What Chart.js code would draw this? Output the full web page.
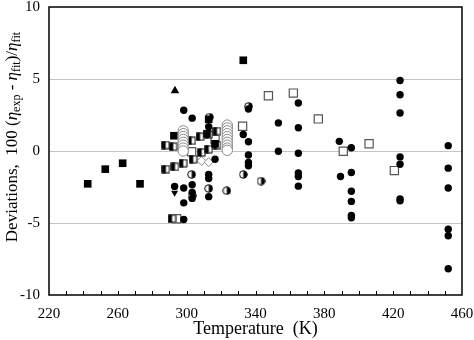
<!DOCTYPE html>
<html>
<head>
<meta charset="utf-8">
<script src="https://cdn.jsdelivr.net/npm/chart.js@4"></script>
<style>
  html, body { margin: 0; padding: 0; background: #fff; }
  #wrap { width: 474px; height: 340px; }
</style>
</head>
<body>
<div id="wrap"><canvas id="chart" width="474" height="340"></canvas></div>
<script>
// axis ticks
var xTicks = [220, 260, 300, 340, 380, 420, 460];
var yTicks = [-10, -5, 0, 5, 10];

// filled squares
var filledSquares = [
  [242.5, -2.28], [252.7, -1.26], [262.8, -0.85], [272.9, -2.28],
  [332.9, 6.3], [292.6, 1.06], [312.8, 2.2], [311.8, 1.2], [316.5, 0.5]
];

// half-filled squares
var halfSquares = [
  [287.8, 0.41], [292.2, 0.3], [287.9, -1.26], [293.2, -1.1], [298, -0.85],
  [303.8, -0.57], [308.7, -0.1], [312.8, 0.13], [317.6, 0.41],
  [302.9, 0.71], [307.8, 0.99], [312.8, 1.15], [317.6, 1.38], [291.5, -4.7]
];

// open squares
var openSquares = [
  [347.5, 3.84], [362, 4.02], [376.5, 2.23], [391, -0.02], [406, 0.5],
  [420.7, -1.36], [332.5, 1.72], [302.9, -0.05], [316.5, 0.8], [294.2, -4.7]
];

// open circles
var openCircles = [
  [298, 1.4], [298, 1.2], [298, 1.0], [298, 0.8], [298, 0.6], [298, 0.4], [298, 0.2], [298, 0.0],
  [323.6, 1.8], [323.6, 1.6], [323.6, 1.4], [323.6, 1.2], [323.6, 1.0], [323.6, 0.8],
  [323.6, 0.6], [323.6, 0.4], [323.6, 0.2], [323.6, 0.05]
];

// half-filled circles
var halfCircles = [
  [302.9, -1.63], [323.3, -2.76], [332.9, -1.63], [343.2, -2.09],
  [312.8, -2.6], [303.2, -3.1], [313.2, 2.35], [336, 3.1]
];

// filled circles
var filledCircles = [
  [298.3, 2.83], [298.3, -2.57], [298.3, -3.6], [298.3, -4.76],
  [303.2, 2.28], [303.2, -2.34], [303.2, -2.87], [303.2, -3.29],
  [293, -2.46],
  [312.8, 1.68], [312.8, -1.63], [312.8, -1.91], [312.8, -3.17],
  [316.5, -0.57], [332.9, 1.15],
  [335.9, 2.92], [335.9, 0.64], [335.9, -0.28], [335.9, -0.8], [335.9, -1.03],
  [353.3, 1.95], [353.3, -0.02],
  [364.9, 3.33], [364.9, 1.61], [364.9, -0.16], [364.9, -1.52], [364.9, -1.77], [364.9, -2.44],
  [388.7, 0.67], [389.4, -1.77],
  [395.7, 0.23], [395.7, -1.49], [395.7, -2.8], [395.7, -3.5], [395.7, -4.48], [395.7, -4.64],
  [424, 4.9], [424, 3.91], [424, 2.64], [424, -0.41], [424, -0.92], [424, -3.33], [424, -3.45],
  [452, 0.37], [452, -1.19], [452, -2.57], [452, -5.43], [452, -5.89], [452, -8.18]
];

// other marks
var upTriangles = [[293.2, 4.18]];
var downTriangles = [[293, -2.9]];
var openDiamonds = [[308.7, -0.69], [312.8, -0.77]];

function toPts(arr) {
  var out = [];
  for (var i = 0; i < arr.length; i++) out.push({ x: arr[i][0], y: arr[i][1] });
  return out;
}

// little canvases for half-filled markers
function halfCircleImg() {
  var c = document.createElement("canvas");
  c.width = 9; c.height = 9;
  var g = c.getContext("2d");
  g.beginPath(); g.arc(4.5, 4.5, 3.8, 0, Math.PI * 2); g.fillStyle = "#fff"; g.fill();
  g.beginPath(); g.arc(4.5, 4.5, 3.8, -Math.PI / 2, Math.PI / 2); g.closePath(); g.fillStyle = "#000"; g.fill();
  g.beginPath(); g.arc(4.5, 4.5, 3.8, 0, Math.PI * 2); g.lineWidth = 1; g.strokeStyle = "#000"; g.stroke();
  return c;
}

function halfSquareImg() {
  var c = document.createElement("canvas");
  c.width = 9; c.height = 9;
  var g = c.getContext("2d");
  g.fillStyle = "#fff"; g.fillRect(0.5, 0.5, 8, 8);
  g.fillStyle = "#000"; g.fillRect(0.5, 0.5, 4, 8);
  g.lineWidth = 1; g.strokeStyle = "#000"; g.strokeRect(1, 1, 7, 7);
  return c;
}

// frame + inward minor ticks + y title
var framePlugin = {
  id: "frame",
  afterDraw: function (chart) {
    var ctx = chart.ctx;
    var a = chart.chartArea;
    var xs = chart.scales.x;
    ctx.save();
    ctx.strokeStyle = "#000";
    ctx.lineWidth = 1.5;
    ctx.strokeRect(a.left, a.top, a.right - a.left, a.bottom - a.top);
    ctx.lineWidth = 1;
    for (var v = 230; v < 460; v += 10) {
      var px = Math.round(xs.getPixelForValue(v)) + 0.5;
      ctx.beginPath();
      ctx.moveTo(px, a.bottom);
      ctx.lineTo(px, a.bottom - 4);
      ctx.stroke();
    }

    // y title with subscripts
    ctx.translate(13, 137);
    ctx.rotate(-Math.PI / 2);
    var parts = [
      ["Deviations,  100 (", "17px 'Liberation Serif'", 0],
      ["\u03B7", "italic 17px 'Liberation Serif'", 0],
      ["exp", "12px 'Liberation Serif'", 4],
      [" - ", "17px 'Liberation Serif'", 0],
      ["\u03B7", "italic 17px 'Liberation Serif'", 0],
      ["fit", "12px 'Liberation Serif'", 4],
      [")/", "17px 'Liberation Serif'", 0],
      ["\u03B7", "italic 17px 'Liberation Serif'", 0],
      ["fit", "12px 'Liberation Serif'", 4]
    ];
    var total = 0;
    for (var i = 0; i < parts.length; i++) {
      ctx.font = parts[i][1];
      total += ctx.measureText(parts[i][0]).width;
    }
    var x = -total / 2;
    ctx.fillStyle = "#000";
    ctx.textBaseline = "middle";
    for (var j = 0; j < parts.length; j++) {
      ctx.font = parts[j][1];
      ctx.fillText(parts[j][0], x, parts[j][2]);
      x += ctx.measureText(parts[j][0]).width;
    }
    ctx.restore();
  }
};

var ctx = document.getElementById("chart").getContext("2d");
new Chart(ctx, {
  type: "scatter",
  data: {
    datasets: [
      { label: "open circles", data: toPts(openCircles), pointStyle: "circle", pointRadius: 5.2,
        backgroundColor: "#fff", borderColor: "#8a8a8a", borderWidth: 1 },
      { label: "filled circles", data: toPts(filledCircles), pointStyle: "circle", pointRadius: 3.7,
        backgroundColor: "#000", borderColor: "#000", borderWidth: 0 },
      { label: "filled squares", data: toPts(filledSquares), pointStyle: "rect", pointRadius: 5.4,
        backgroundColor: "#000", borderColor: "#000", borderWidth: 0 },
      { label: "half squares", data: toPts(halfSquares), pointStyle: halfSquareImg() },
      { label: "open squares", data: toPts(openSquares), pointStyle: "rect", pointRadius: 5.8,
        backgroundColor: "#fff", borderColor: "#555", borderWidth: 1.2 },
      { label: "half circles", data: toPts(halfCircles), pointStyle: halfCircleImg() },
      { label: "up", data: toPts(upTriangles), pointStyle: "triangle", pointRadius: 5,
        backgroundColor: "#000", borderColor: "#000", borderWidth: 0 },
      { label: "down", data: toPts(downTriangles), pointStyle: "triangle", rotation: 180, pointRadius: 4,
        backgroundColor: "#000", borderColor: "#000", borderWidth: 0 },
      { label: "diamonds", data: toPts(openDiamonds), pointStyle: "rectRot", pointRadius: 4.5,
        backgroundColor: "#fff", borderColor: "#888", borderWidth: 1 }
    ]
  },
  options: {
    responsive: false,
    maintainAspectRatio: false,
    animation: false,
    layout: { padding: { top: 5, right: 12, left: 0, bottom: 0 } },
    plugins: { legend: { display: false }, tooltip: { enabled: false } },
    scales: {
      x: {
        type: "linear",
        min: 220,
        max: 460,
        afterBuildTicks: function (s) {
          s.ticks = xTicks.map(function (v) { return { value: v }; });
        },
        afterFit: function (s) { s.height = 45; s.paddingLeft = 0; s.paddingRight = 0; },
        grid: { display: false, drawTicks: false },
        border: { display: false },
        ticks: {
          color: "#000",
          padding: 10,
          maxRotation: 0,
          font: { family: "'Liberation Serif'", size: 15 }
        },
        title: {
          display: true,
          text: "Temperature  (K)",
          color: "#000",
          padding: { top: 2, bottom: 0 },
          font: { family: "'Liberation Serif'", size: 18 }
        }
      },
      y: {
        min: -10,
        max: 10,
        afterBuildTicks: function (s) {
          s.ticks = yTicks.map(function (v) { return { value: v }; });
        },
        afterFit: function (s) { s.width = 49; s.paddingTop = 0; s.paddingBottom = 0; },
        grid: {
          drawTicks: false,
          lineWidth: 1,
          color: function (c) {
            var v = c.tick && c.tick.value;
            return v === 10 || v === -10 ? "rgba(0,0,0,0)" : "#c4c4c4";
          }
        },
        border: { display: false },
        ticks: {
          color: "#000",
          padding: 9,
          font: { family: "'Liberation Serif'", size: 15 }
        }
      }
    }
  },
  plugins: [framePlugin]
});
</script>
</body>
</html>
